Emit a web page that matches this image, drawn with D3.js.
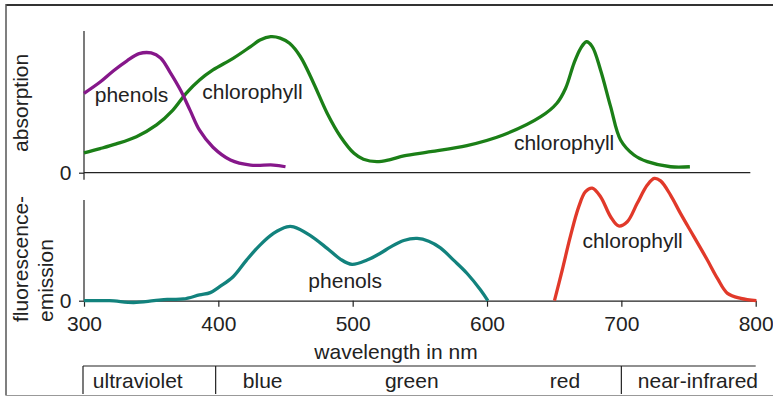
<!DOCTYPE html>
<html>
<head>
<meta charset="utf-8">
<script src="https://cdn.jsdelivr.net/npm/d3@7"></script>
<style>
  html, body { margin: 0; padding: 0; background: #fff; }
  svg { display: block; font-family: "Liberation Sans", Arial, Helvetica, sans-serif; }
</style>
</head>
<body>
<svg id="chart" width="773" height="396"></svg>
<script>
// absorption curves (relative units, 0..100 = axis height)
const phenolAbs = [
  [300, 56], [312, 64], [322, 72], [332, 79], [341, 84], [350, 84.5], [357, 81],
  [364, 71], [372, 58], [379, 44], [386, 30], [396, 18], [409, 9], [424, 5.4],
  [441, 5.4], [450, 4.2]
];
const chloroAbs = [
  [300, 14], [312, 17], [324, 20.3], [339, 25.4], [354, 33.7], [366, 44], [376, 56],
  [386, 65.4], [396, 72.5], [411, 80.7], [424, 89], [431, 93.6], [439, 96], [446, 95],
  [453, 91.3], [461, 82], [471, 63], [481, 42], [491, 25.4], [501, 13.7], [508, 9.5],
  [518, 7.8], [528, 9.3], [538, 11.8], [558, 14.8], [585, 19.1], [612, 26.6], [640, 39.5],
  [652, 49], [658.5, 59.6], [664.7, 77.2], [669.7, 87.8], [674, 92.4], [678.3, 89],
  [684.5, 72.5], [692, 46.6], [699.4, 23.1], [709.4, 12.5], [719.3, 7.8], [736.7, 4.2],
  [751, 4.2]
];
// fluorescence emission curves (relative units)
const phenolEm = [
  [300, 0], [319, 0], [337, -1.8], [352, 0], [362, 1.3], [374, 1.7], [386, 5.7],
  [394, 8], [401, 13.9], [411, 23.8], [421, 40.3], [431, 55.2], [441, 66.8], [451, 73.4],
  [456, 73.4], [468, 65.2], [481, 52], [491, 41.1], [499.5, 36.1], [510.7, 40.4],
  [520.6, 47.1], [528, 53.2], [538, 59.8], [548, 61.8], [556.6, 59.1], [565.3, 52.5],
  [575.3, 40], [585.2, 27], [595.2, 10.6], [600.6, 0]
];
const chloroEm = [
  [650.2, 0], [656, 30.5], [662, 63.6], [668.3, 93.4], [673.3, 108.2], [678.3, 111.8],
  [684.5, 103.3], [692, 83.4], [698, 74.2], [704.4, 78.4], [711.8, 96.7], [719.3, 114.8],
  [724.5, 121.5], [729.2, 119], [736.6, 104.9], [744, 86.7], [754, 63.6], [764, 40.4],
  [771.5, 22.2], [779, 7.3], [789, 2.3], [800.5, 0]
];

const xTicks = [300, 400, 500, 600, 700, 800];
const bandNames = ['ultraviolet', 'blue', 'green', 'red', 'near-infrared'];
const bandCenters = [340, 433, 544, 658, 757];
const bandEdges = [300, 398, 700];

// labels inside the plots: [text, wavelength, value]
const absLabels = [['phenols', 308, 50], ['chlorophyll', 388, 52.2], ['chlorophyll', 620, 16]];
const emLabels = [['phenols', 467, 12.6], ['chlorophyll', 671, 52]];

const svg = d3.select('#chart');
const ink = '#222';
const fontSize = 21;

const x = d3.scaleLinear().domain([300, 800]).range([84, 755.7]);
const yTop = d3.scaleLinear().domain([0, 100]).range([172.7, 31]);
const yBot = d3.scaleLinear().domain([0, 100]).range([300.7, 200]);

// frame
svg.append('line').attr('x1', 6).attr('x2', 773).attr('y1', 5).attr('y2', 5)
  .attr('stroke', '#333').attr('stroke-width', 2);
svg.append('line').attr('x1', 6).attr('x2', 6).attr('y1', 4).attr('y2', 395.5)
  .attr('stroke', '#555').attr('stroke-width', 1.5);
svg.append('line').attr('x1', 6).attr('x2', 773).attr('y1', 395.5).attr('y2', 395.5)
  .attr('stroke', '#999').attr('stroke-width', 1);

// top panel axes
svg.append('line').attr('x1', x(300)).attr('x2', x(300)).attr('y1', yTop(100)).attr('y2', yTop(0) + 7)
  .attr('stroke', ink).attr('stroke-width', 1.2);
svg.append('line').attr('x1', x(300)).attr('x2', x(796)).attr('y1', yTop(0)).attr('y2', yTop(0))
  .attr('stroke', ink).attr('stroke-width', 1.2);

const leftTop = svg.append('g').attr('transform', `translate(${x(300)},0)`)
  .call(d3.axisLeft(yTop).tickValues([0]).tickSize(5).tickPadding(7.5).tickSizeOuter(0));
const leftBot = svg.append('g').attr('transform', `translate(${x(300)},0)`)
  .call(d3.axisLeft(yBot).tickValues([0]).tickSize(5).tickPadding(7.5).tickSizeOuter(0));
[leftTop, leftBot].forEach(g => {
  g.select('.domain').remove();
  g.selectAll('line').attr('stroke', ink).attr('stroke-width', 1.2);
  g.selectAll('text').attr('font-size', fontSize).attr('font-family', null).attr('fill', ink);
});

// bottom panel axes
svg.append('line').attr('x1', x(300)).attr('x2', x(300)).attr('y1', yBot(100)).attr('y2', yBot(0))
  .attr('stroke', ink).attr('stroke-width', 1.2);
const xAxis = svg.append('g').attr('transform', `translate(0,${yBot(0)})`)
  .call(d3.axisBottom(x).tickValues(xTicks).tickSize(6).tickPadding(9).tickSizeOuter(0));
xAxis.select('.domain').attr('stroke', ink).attr('stroke-width', 1.2);
xAxis.selectAll('line').attr('stroke', ink).attr('stroke-width', 1.2);
xAxis.selectAll('text').attr('font-size', fontSize).attr('font-family', null).attr('fill', ink);

// curves
const lineTop = d3.line().x(d => x(d[0])).y(d => yTop(d[1])).curve(d3.curveCatmullRom.alpha(0.5));
const lineBot = d3.line().x(d => x(d[0])).y(d => yBot(d[1])).curve(d3.curveCatmullRom.alpha(0.5));

const curves = [
  [chloroAbs, lineTop, '#1b7f17'],
  [phenolAbs, lineTop, '#86178a'],
  [phenolEm, lineBot, '#12827d'],
  [chloroEm, lineBot, '#e1392a']
];
curves.forEach(([data, gen, color]) => {
  svg.append('path').datum(data)
    .attr('d', gen)
    .attr('fill', 'none')
    .attr('stroke', color)
    .attr('stroke-width', 3.3)
    .attr('stroke-linejoin', 'round');
});

// in-plot labels
absLabels.forEach(([t, w, v]) => {
  svg.append('text').attr('x', x(w)).attr('y', yTop(v))
    .attr('font-size', fontSize).attr('fill', ink).text(t);
});
emLabels.forEach(([t, w, v]) => {
  svg.append('text').attr('x', x(w)).attr('y', yBot(v))
    .attr('font-size', fontSize).attr('fill', ink).text(t);
});

// y axis titles
svg.append('text')
  .attr('transform', `translate(28,${(yTop(100) + yTop(0)) / 2 + 1}) rotate(-90)`)
  .attr('text-anchor', 'middle')
  .attr('font-size', fontSize).attr('fill', ink)
  .text('absorption');
['fluorescence-', 'emission'].forEach((t, i) => {
  svg.append('text')
    .attr('transform', `translate(${28 + i * 25},322) rotate(-90)`)
    .attr('text-anchor', 'start')
    .attr('font-size', fontSize).attr('fill', ink)
    .text(t);
});

// x axis title
svg.append('text').attr('x', 396).attr('y', 359)
  .attr('text-anchor', 'middle')
  .attr('font-size', fontSize).attr('fill', ink)
  .text('wavelength in nm');

// spectral bands row
const bandTop = 366;
svg.append('line').attr('x1', x(300) - 1).attr('x2', x(800)).attr('y1', bandTop).attr('y2', bandTop)
  .attr('stroke', ink).attr('stroke-width', 1.2);
svg.selectAll('.band-edge').data(bandEdges).enter().append('line')
  .attr('class', 'band-edge')
  .attr('x1', d => x(d) - (d === 300 ? 1 : 0)).attr('x2', d => x(d) - (d === 300 ? 1 : 0))
  .attr('y1', bandTop).attr('y2', 394)
  .attr('stroke', ink).attr('stroke-width', 1.2);
svg.selectAll('.band-name').data(bandNames).enter().append('text')
  .attr('class', 'band-name')
  .attr('x', (d, i) => x(bandCenters[i])).attr('y', 388)
  .attr('text-anchor', 'middle')
  .attr('font-size', fontSize).attr('fill', ink)
  .text(d => d);
</script>
</body>
</html>
